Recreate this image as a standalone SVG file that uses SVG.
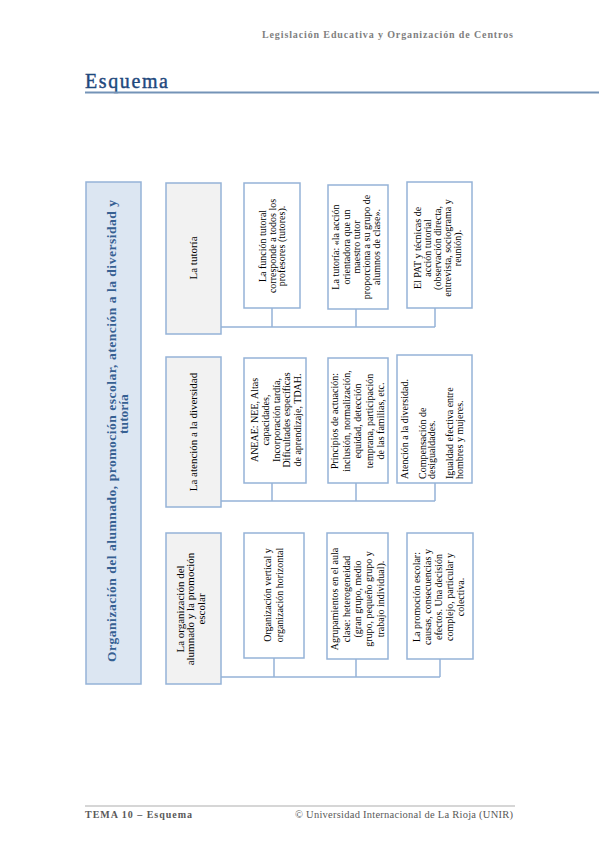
<svg xmlns="http://www.w3.org/2000/svg" width="599" height="848" viewBox="0 0 599 848">
<defs>
<style>
.bg{fill:#ffffff}
.main{fill:#dce6f2;stroke:#95b3d7;stroke-width:1.5}
.l2{fill:#f2f2f2;stroke:#95b3d7;stroke-width:1.5}
.l3{fill:#ffffff;stroke:#95b3d7;stroke-width:1.5}
.con{fill:none;stroke:#95b3d7;stroke-width:1.5}
.mt{font-family:"Liberation Serif","DejaVu Serif",serif;font-weight:bold;font-size:13.5px;fill:#366092;text-anchor:middle}
.t2{font-family:"Liberation Serif","DejaVu Serif",serif;font-size:11px;fill:#000;text-anchor:middle}
.t3{font-family:"Liberation Serif","DejaVu Serif",serif;font-size:10px;fill:#000;text-anchor:middle}
.t3s{font-family:"Liberation Serif","DejaVu Serif",serif;font-size:10px;fill:#000;text-anchor:start}
.hdr{font-family:"Liberation Serif","DejaVu Serif",serif;font-weight:bold;font-size:10px;fill:#7f7f7f}
.ttl{font-family:"Liberation Serif","DejaVu Serif",serif;font-size:20px;fill:#1f497d;stroke:#1f497d;stroke-width:0.4px;letter-spacing:1.6px}
.ftb{font-family:"Liberation Serif","DejaVu Serif",serif;font-weight:bold;font-size:10px;fill:#595959}
.ft{font-family:"Liberation Serif","DejaVu Serif",serif;font-size:10.5px;fill:#595959}
</style>
</defs>
<rect class="bg" x="0" y="0" width="599" height="848"/>

<g id="page-header">
<text class="hdr" x="262" y="38" textLength="251" lengthAdjust="spacing">Legislación Educativa y Organización de Centros</text>
<text class="ttl" x="85" y="88">Esquema</text>
<line x1="85" y1="92.5" x2="599" y2="92.5" stroke="#7493b7" stroke-width="2"/>
</g>

<g id="page-footer">
<line x1="85" y1="806" x2="515" y2="806" stroke="#c8c8c8" stroke-width="1.5"/>
<text class="ftb" x="85" y="818" textLength="107" lengthAdjust="spacing">TEMA 10 – Esquema</text>
<text class="ft" x="295" y="818" textLength="218" lengthAdjust="spacing">© Universidad Internacional de La Rioja (UNIR)</text>
</g>

<g id="connectors">
<path class="con" d="M221,327 H435 M272,308 V327 M356,309 V327 M435,308 V327"/>
<path class="con" d="M221,501 H435 M272,483 V501 M356,483 V501 M435,483 V501"/>
<path class="con" d="M221,677 H440 M274,658 V677 M356,659 V677 M440,659 V677"/>
</g>

<g id="main">
<rect class="main" x="86" y="182" width="55" height="502"/>
<text class="mt" transform="translate(0,431) rotate(-90)" x="0" y="116" textLength="462" lengthAdjust="spacing">Organización del alumnado, promoción escolar, atención a la diversidad y</text>
<text class="mt" transform="translate(0,414) rotate(-90)" x="0" y="127.5">tutoría</text>
</g>

<g id="tutoria">
<rect class="l2" x="166" y="183" width="55" height="151"/>
<text class="t2" transform="translate(0,258) rotate(-90)" x="0" y="197">La tutoría</text>
</g>
<g id="atencion">
<rect class="l2" x="166" y="357" width="55" height="150"/>
<text class="t2" transform="translate(0,432) rotate(-90)" x="0" y="197">La atención a la diversidad</text>
</g>
<g id="organizacion">
<rect class="l2" x="166" y="533" width="55" height="151"/>
<text class="t2" transform="translate(0,609) rotate(-90)"><tspan x="0" y="183.5">La organización del</tspan><tspan x="0" y="194">alumnado y la promoción</tspan><tspan x="0" y="205">escolar</tspan></text>
</g>

<g id="tut-1">
<rect class="l3" x="244" y="183" width="56" height="125"/>
<text class="t3" transform="translate(0,246) rotate(-90)"><tspan x="0" y="266">La función tutoral</tspan><tspan x="0" y="275.5">corresponde a todos los</tspan><tspan x="0" y="285">profesores (tutores).</tspan></text>
</g>
<g id="tut-2">
<rect class="l3" x="328" y="185" width="60" height="124"/>
<text class="t3" transform="translate(0,247) rotate(-90)"><tspan x="0" y="339">La tutoría: «la acción</tspan><tspan x="0" y="349.5">orientadora que un</tspan><tspan x="0" y="360">maestro tutor</tspan><tspan x="0" y="370">proporciona a su grupo de</tspan><tspan x="0" y="380">alumnos de clase».</tspan></text>
</g>
<g id="tut-3">
<rect class="l3" x="407" y="182" width="65" height="126"/>
<text class="t3" transform="translate(0,248) rotate(-90)"><tspan x="0" y="421">El PAT y técnicas de</tspan><tspan x="0" y="431">acción tutorial</tspan><tspan x="0" y="441">(observación directa,</tspan><tspan x="0" y="451">entrevista, sociograma y</tspan><tspan x="0" y="461">reunión).</tspan></text>
</g>

<g id="ate-1">
<rect class="l3" x="244" y="358" width="62" height="125"/>
<text class="t3" transform="translate(0,420) rotate(-90)"><tspan x="0" y="258">ANEAE: NEE, Altas</tspan><tspan x="0" y="269">capacidades,</tspan><tspan x="0" y="280">Incorporación tardía,</tspan><tspan x="0" y="290">Dificultades específicas</tspan><tspan x="0" y="301">de aprendizaje, TDAH.</tspan></text>
</g>
<g id="ate-2">
<rect class="l3" x="328" y="358" width="60" height="125"/>
<text class="t3" transform="translate(0,421) rotate(-90)"><tspan x="0" y="338">Principios de actuación:</tspan><tspan x="0" y="349.5">inclusión, normalización,</tspan><tspan x="0" y="361">equidad, detección</tspan><tspan x="0" y="372.5">temprana, participación</tspan><tspan x="0" y="384">de las familias, etc.</tspan></text>
</g>
<g id="ate-3">
<rect class="l3" x="397" y="355" width="75" height="128"/>
<text class="t3s" transform="translate(0,479) rotate(-90)"><tspan x="0" y="408">Atención a la diversidad.</tspan><tspan x="0" y="426">Compensación de</tspan><tspan x="0" y="435">desigualdades.</tspan><tspan x="0" y="453">Igualdad efectiva entre</tspan><tspan x="0" y="462.5">hombres y mujeres.</tspan></text>
</g>

<g id="org-1">
<rect class="l3" x="244" y="533" width="60" height="125"/>
<text class="t3" transform="translate(0,595) rotate(-90)"><tspan x="0" y="271">Organización vertical y</tspan><tspan x="0" y="283">organización horizontal</tspan></text>
</g>
<g id="org-2">
<rect class="l3" x="327" y="533" width="61" height="126"/>
<text class="t3" transform="translate(0,599) rotate(-90)"><tspan x="0" y="338">Agrupamientos en el aula</tspan><tspan x="0" y="349.5">clase: heterogeneidad</tspan><tspan x="0" y="361">(gran grupo, medio</tspan><tspan x="0" y="372">grupo, pequeño grupo y</tspan><tspan x="0" y="383.5">trabajo individual).</tspan></text>
</g>
<g id="org-3">
<rect class="l3" x="407" y="533" width="66" height="126"/>
<text class="t3" transform="translate(0,597) rotate(-90)"><tspan x="0" y="420">La promoción escolar:</tspan><tspan x="0" y="431">causas, consecuencias y</tspan><tspan x="0" y="442">efectos. Una decisión</tspan><tspan x="0" y="453">complejo, particular y</tspan><tspan x="0" y="464">colectiva.</tspan></text>
</g>
</svg>
